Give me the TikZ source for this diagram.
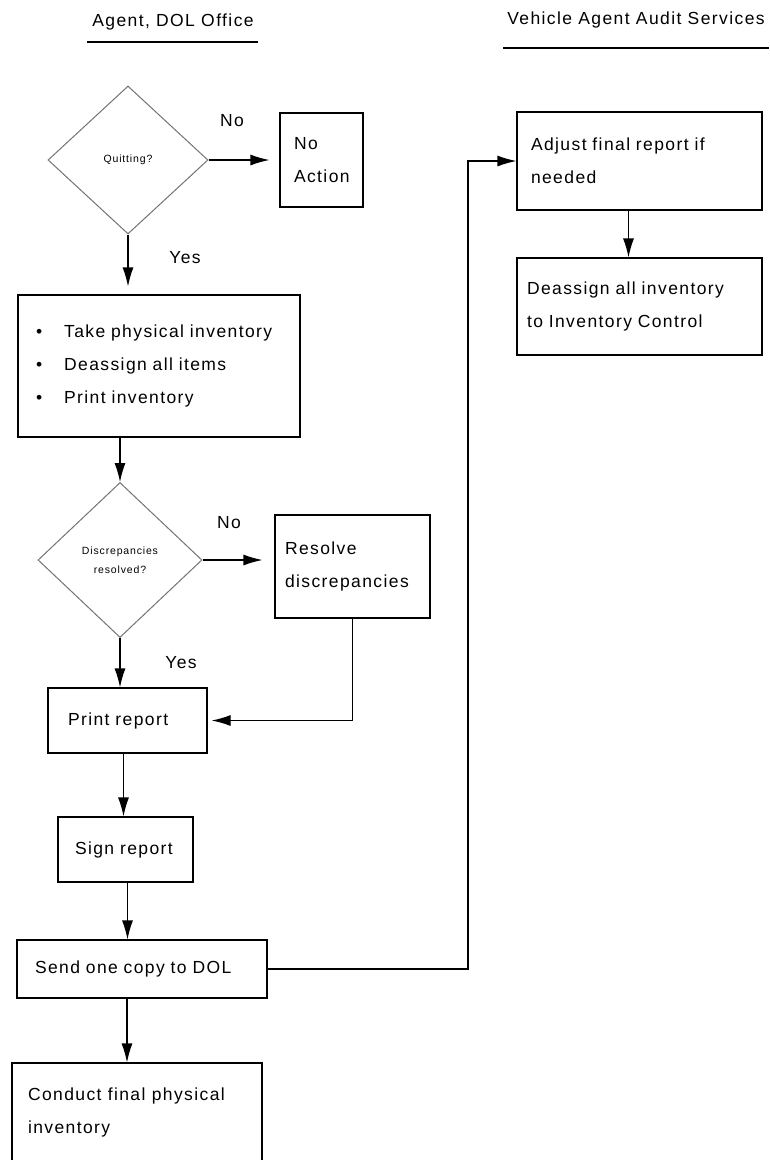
\documentclass[tikz,border=0pt]{standalone}
\usepackage{fontspec}
\setmainfont{Liberation Sans}[LetterSpace=8]
\usetikzlibrary{shapes.geometric,arrows.meta}
\tikzset{arr/.style={line width=1.2pt, arrows={-Latex[length=19pt, width=11pt]}}}
\begin{document}
\begin{tikzpicture}[x=1pt,y=-1pt,
  line width=1.2pt,
  every node/.style={font=\fontsize{17.5}{33}\selectfont},
  box/.style={draw, rectangle, inner xsep=14pt, inner ysep=0pt, align=left},
  dia/.style={draw=black!55, line width=1pt, diamond, inner sep=0pt, align=center, font=\fontsize{10.5}{19}\selectfont},
  lbl/.style={inner sep=0pt},
  title/.style={inner sep=0pt}]
\useasboundingbox (0,0) rectangle (769,1160);
\begin{scope}
\clip (0,0) rectangle (769,1160);
% titles
\node[title] (t1) at (173,22) {Agent, DOL Office};
\node[title] (t2) at (636,20) {Vehicle Agent Audit Services};
\draw (87,42) -- (258,42);
\draw (503,48) -- (769,48);
% decisions
\node[dia, minimum width=160pt, minimum height=148pt] (d1) at (128,160) {Quitting?};
\node[dia, minimum width=164pt, minimum height=155pt] (d2) at (120,560) {Discrepancies\\resolved?};
% boxes
\node[box, text width=55pt, minimum height=94pt] (noact) at (321.5,160) {No\\Action};
\node[box, text width=254pt, minimum height=142pt] (b1) at (159,366)
  {\hspace{4pt}\textbullet\hspace{22pt}Take physical inventory\\
   \hspace{4pt}\textbullet\hspace{22pt}Deassign all items\\
   \hspace{4pt}\textbullet\hspace{22pt}Print inventory};
\node[box, text width=135pt, inner xsep=10pt, minimum height=103pt] (res) at (352.5,566.5) {Resolve\\discrepancies};
\node[box, text width=131pt, minimum height=65pt] (pr) at (127.5,720.5) {\hspace{6pt}Print report};
\node[box, text width=107pt, minimum height=65pt] (sg) at (125.5,849.5) {\hspace{3pt}Sign report};
\node[box, text width=222pt, minimum height=58pt] (snd) at (142,969) {\hspace{4pt}Send one copy to DOL};
\node[draw, rectangle, minimum width=250pt, minimum height=130pt, inner sep=0pt] (con) at (137,1128) {};
\node[anchor=north west, align=left, inner sep=0pt] (cont) at ([xshift=16pt,yshift=-25pt]con.north west) {Conduct final physical\\inventory};
\node[box, text width=217pt, minimum height=98pt] (adj) at (639.5,161) {Adjust final report if\\needed};
\node[box, text width=225pt, inner xsep=10pt, minimum height=97pt] (dea) at (639.5,306.5) {Deassign all inventory\\to Inventory Control};
\coordinate (turn) at (468,161);
% connectors
\draw[arr] (d1.east) -- ([xshift=-10pt]noact.west);
\draw[arr] (d1.south) -- ([yshift=8pt]d1.south |- b1.north);
\draw[arr] (d2.north |- b1.south) -- (d2.north);
\draw[arr] (d2.east) -- ([xshift=-12pt]d2.east -| res.west);
\draw[arr] (d2.south) -- (d2.south |- pr.north);
\draw[arr] (res.south) |- ([xshift=4pt]pr.east);
\draw[arr] ([xshift=-4pt]pr.south) -- ([xshift=-4pt]pr.south |- sg.north);
\draw[arr] ([xshift=2pt]sg.south) -- ([xshift=2pt]sg.south |- snd.north);
\draw[arr] ([xshift=-15pt]snd.south) -- ([xshift=-15pt]snd.south |- con.north);
\draw[arr] (snd.east) -| (turn) -- (adj.west);
\draw[arr] ([xshift=-11pt]adj.south) -- ([xshift=-11pt]adj.south |- dea.north);
% labels
\node[lbl] (l1) at (232,121) {No};
\node[lbl] (l2) at (185,258) {Yes};
\node[lbl] (l3) at (229,523) {No};
\node[lbl] (l4) at (181,663) {Yes};
\end{scope}
\end{tikzpicture}
\end{document}
